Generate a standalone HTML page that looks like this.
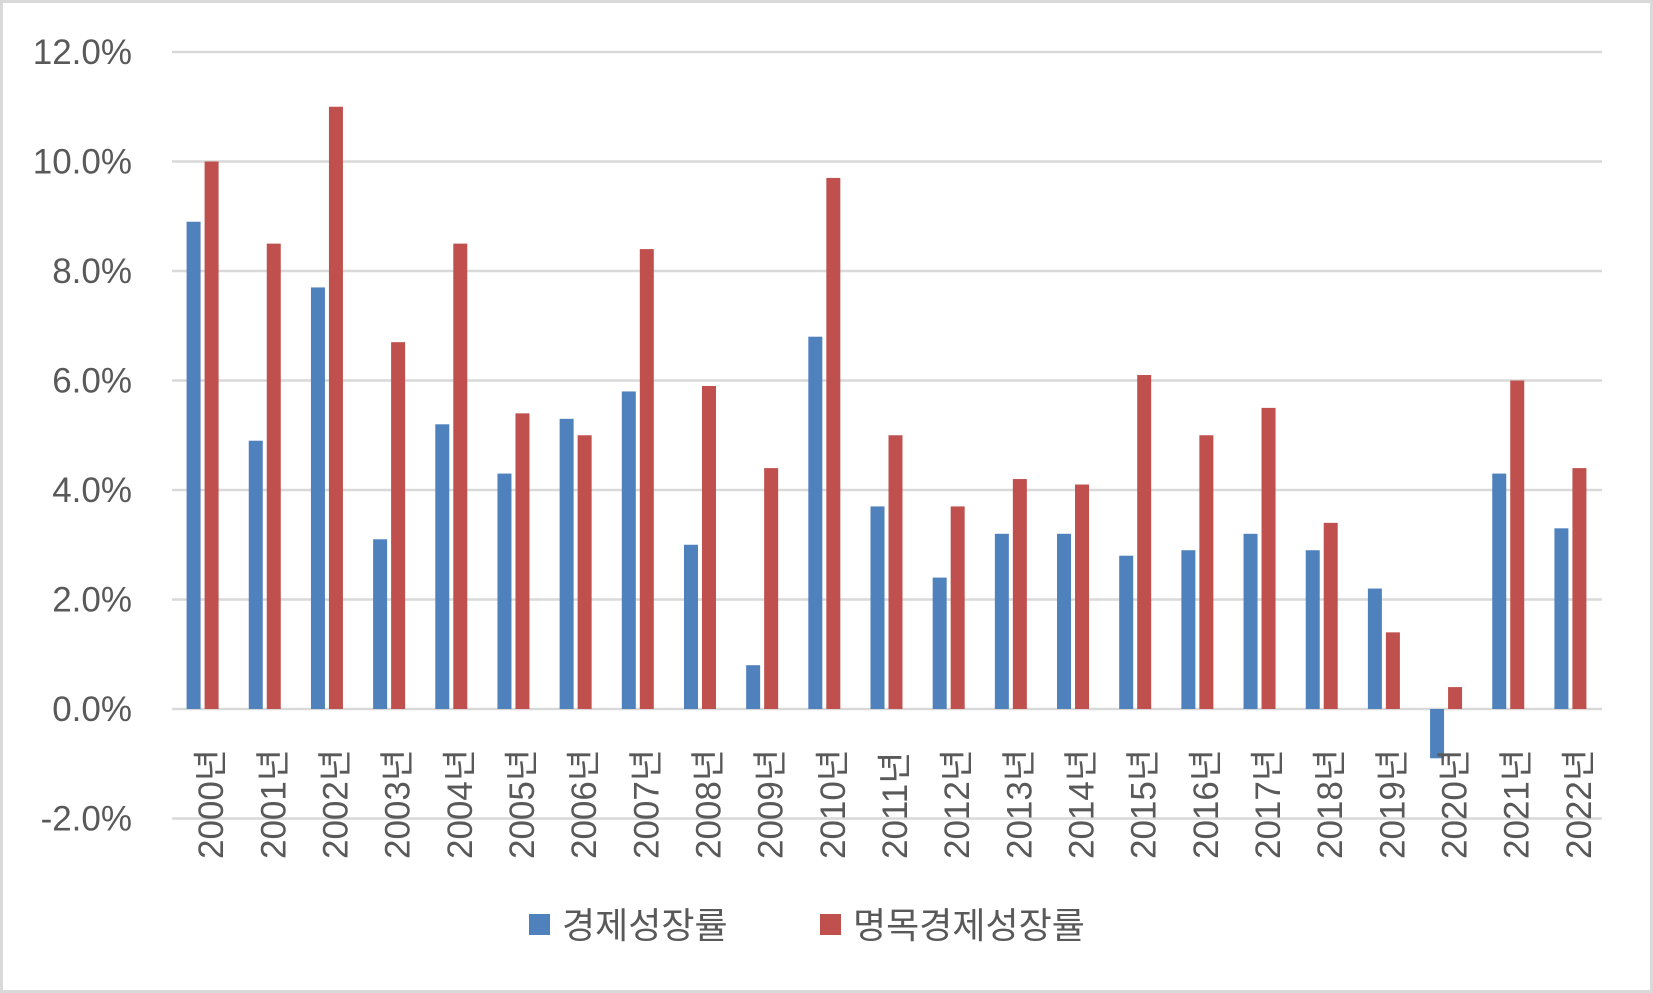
<!DOCTYPE html>
<html><head><meta charset="utf-8"><style>
html,body{margin:0;padding:0;background:#fff;}
#wrap{position:relative;width:1653px;height:993px;overflow:hidden;}
svg text{font-family:"Liberation Sans","Noto Sans CJK KR",sans-serif;fill:#595959;}
</style></head><body>
<div id="wrap">
<svg id="chart" width="1653" height="993">
<rect x="1.5" y="1.5" width="1650" height="990" fill="#fff" stroke="#d9d9d9" stroke-width="3"/>
<g id="grid"></g><g id="bars"></g><g id="labels"></g>
<g>
<rect x="529" y="914" width="21" height="21" fill="#4f81bd"/>
<text x="562" y="938" font-size="36">경제성장률</text>
<rect x="820" y="914" width="21" height="21" fill="#c0504d"/>
<text x="853" y="938" font-size="36">명목경제성장률</text>
</g>
</svg>
</div>
<script>
const categories=["2000년","2001년","2002년","2003년","2004년","2005년","2006년","2007년","2008년","2009년","2010년","2011년","2012년","2013년","2014년","2015년","2016년","2017년","2018년","2019년","2020년","2021년","2022년"];
const realGrowth=[8.9,4.9,7.7,3.1,5.2,4.3,5.3,5.8,3.0,0.8,6.8,3.7,2.4,3.2,3.2,2.8,2.9,3.2,2.9,2.2,-0.9,4.3,3.3];
const nominalGrowth=[10.0,8.5,11.0,6.7,8.5,5.4,5.0,8.4,5.9,4.4,9.7,5.0,3.7,4.2,4.1,6.1,5.0,5.5,3.4,1.4,0.4,6.0,4.4];
const yTicks=[-2,0,2,4,6,8,10,12];
const yTickLabels=["-2.0%","0.0%","2.0%","4.0%","6.0%","8.0%","10.0%","12.0%"];

const NS="http://www.w3.org/2000/svg";
const plotL=172,plotR=1602,y0=709,pxPer=54.75;
const y=v=>y0-v*pxPer;
const band=(plotR-plotL)/categories.length;
const xc=i=>plotL+band*(i+0.5);
const grid=document.getElementById('grid'),bars=document.getElementById('bars'),labels=document.getElementById('labels');
function mk(tag,attrs,parent){const e=document.createElementNS(NS,tag);for(const k in attrs)e.setAttribute(k,attrs[k]);parent.appendChild(e);return e;}
yTicks.forEach((t,i)=>{
  const l=mk('line',{x1:plotL,x2:plotR,y1:y(t),y2:y(t),stroke:'#d9d9d9','stroke-width':2.5},grid);
  
  
  const tx=mk('text',{x:132,y:y(t)+12,'font-size':35,'text-anchor':'end'},labels);
  tx.textContent=yTickLabels[i];
  
  
});
const bw=14;
categories.forEach((c,i)=>{
  const cx=xc(i);
  const v1=realGrowth[i],v2=nominalGrowth[i];
  const b1=mk('rect',{x:cx-16.5,y:Math.min(y(v1),y0),width:bw,height:Math.abs(y(v1)-y0),fill:'#4f81bd'},bars);
  
  
  const b2=mk('rect',{x:cx+1.5,y:Math.min(y(v2),y0),width:bw,height:Math.abs(y(v2)-y0),fill:'#c0504d'},bars);
  
  
  const tx=mk('text',{x:0,y:0,'font-size':35,transform:`translate(${cx+20},859) rotate(-90)`},labels);
  tx.textContent=c;
  
  
});
</script>
</body></html>
